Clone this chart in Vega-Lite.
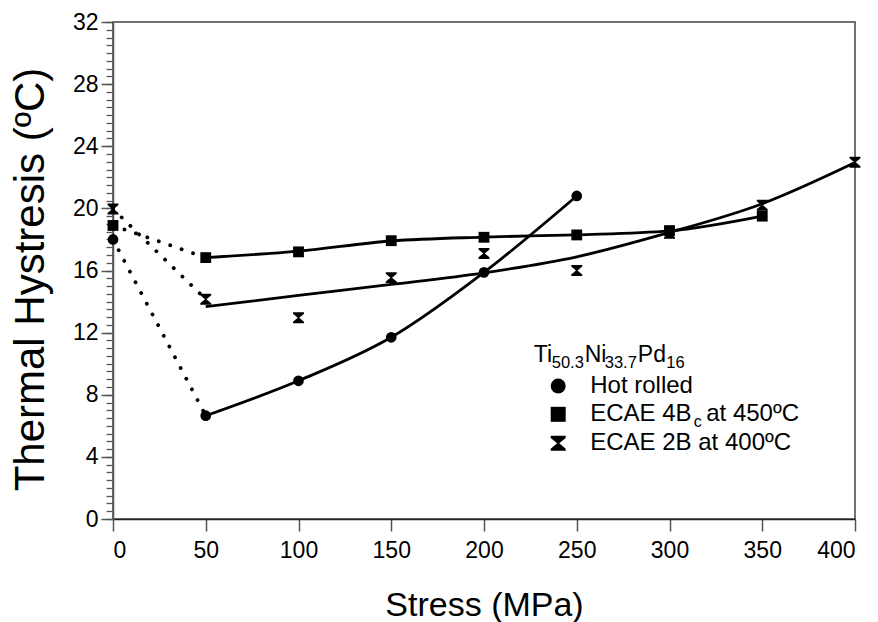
{
  "$schema": "https://vega.github.io/schema/vega-lite/v6.json",
  "width": 742,
  "height": 497,
  "autosize": "none",
  "padding": {"left": 113, "top": 22, "right": 23, "bottom": 103},
  "background": "white",
  "config": {
    "font": "Liberation Sans",
    "view": {"stroke": "#444", "strokeWidth": 1.5},
    "text": {"font": "Liberation Sans", "color": "black"}
  },
  "datasets": {
    "measured": [
      {"series": "Hot rolled", "stress": 0, "th": 18.0},
      {"series": "Hot rolled", "stress": 50, "th": 6.65},
      {"series": "Hot rolled", "stress": 100, "th": 8.9},
      {"series": "Hot rolled", "stress": 150, "th": 11.7},
      {"series": "Hot rolled", "stress": 200, "th": 15.88},
      {"series": "Hot rolled", "stress": 250, "th": 20.8},
      {"series": "ECAE 4Bc at 450ºC", "stress": 0, "th": 18.9},
      {"series": "ECAE 4Bc at 450ºC", "stress": 50, "th": 16.83},
      {"series": "ECAE 4Bc at 450ºC", "stress": 100, "th": 17.2},
      {"series": "ECAE 4Bc at 450ºC", "stress": 150, "th": 17.92},
      {"series": "ECAE 4Bc at 450ºC", "stress": 200, "th": 18.14},
      {"series": "ECAE 4Bc at 450ºC", "stress": 250, "th": 18.29},
      {"series": "ECAE 4Bc at 450ºC", "stress": 300, "th": 18.57},
      {"series": "ECAE 4Bc at 450ºC", "stress": 350, "th": 19.5},
      {"series": "ECAE 2B at 400ºC", "stress": 0, "th": 19.96},
      {"series": "ECAE 2B at 400ºC", "stress": 50, "th": 14.15},
      {"series": "ECAE 2B at 400ºC", "stress": 100, "th": 12.96},
      {"series": "ECAE 2B at 400ºC", "stress": 150, "th": 15.54},
      {"series": "ECAE 2B at 400ºC", "stress": 200, "th": 17.1},
      {"series": "ECAE 2B at 400ºC", "stress": 250, "th": 16.0},
      {"series": "ECAE 2B at 400ºC", "stress": 300, "th": 18.4},
      {"series": "ECAE 2B at 400ºC", "stress": 350, "th": 20.2},
      {"series": "ECAE 2B at 400ºC", "stress": 400, "th": 22.97}
    ],
    "trend": [
      {"series": "Hot rolled", "stress": 50, "th": 6.65},
      {"series": "Hot rolled", "stress": 100, "th": 8.9},
      {"series": "Hot rolled", "stress": 150, "th": 11.7},
      {"series": "Hot rolled", "stress": 200, "th": 15.88},
      {"series": "Hot rolled", "stress": 250, "th": 20.8},
      {"series": "ECAE 4Bc at 450ºC", "stress": 50, "th": 16.83},
      {"series": "ECAE 4Bc at 450ºC", "stress": 100, "th": 17.25},
      {"series": "ECAE 4Bc at 450ºC", "stress": 150, "th": 17.9},
      {"series": "ECAE 4Bc at 450ºC", "stress": 200, "th": 18.15},
      {"series": "ECAE 4Bc at 450ºC", "stress": 250, "th": 18.3},
      {"series": "ECAE 4Bc at 450ºC", "stress": 300, "th": 18.55},
      {"series": "ECAE 4Bc at 450ºC", "stress": 350, "th": 19.5},
      {"series": "ECAE 2B at 400ºC", "stress": 50, "th": 13.67},
      {"series": "ECAE 2B at 400ºC", "stress": 100, "th": 14.4},
      {"series": "ECAE 2B at 400ºC", "stress": 150, "th": 15.1},
      {"series": "ECAE 2B at 400ºC", "stress": 200, "th": 15.85},
      {"series": "ECAE 2B at 400ºC", "stress": 250, "th": 16.88},
      {"series": "ECAE 2B at 400ºC", "stress": 300, "th": 18.45},
      {"series": "ECAE 2B at 400ºC", "stress": 350, "th": 20.3},
      {"series": "ECAE 2B at 400ºC", "stress": 400, "th": 22.95}
    ],
    "unloaded": [
      {"series": "Hot rolled", "stress": 0, "th": 18.0},
      {"series": "Hot rolled", "stress": 50, "th": 6.65},
      {"series": "ECAE 4Bc at 450ºC", "stress": 0, "th": 18.9},
      {"series": "ECAE 4Bc at 450ºC", "stress": 50, "th": 16.83},
      {"series": "ECAE 2B at 400ºC", "stress": 0, "th": 19.96},
      {"series": "ECAE 2B at 400ºC", "stress": 50, "th": 14.15}
    ],
    "key": [
      {"series": "Hot rolled", "label": "Hot rolled", "stress": 240, "th": 8.56},
      {"series": "ECAE 4Bc at 450ºC", "label": "ECAE 4B", "stress": 240, "th": 6.74},
      {"series": "ECAE 2B at 400ºC", "label": "ECAE 2B at 400ºC", "stress": 240, "th": 4.87}
    ]
  },
  "resolve": {"axis": {"y": "independent"}},
  "encoding": {
    "x": {
      "field": "stress", "type": "quantitative",
      "scale": {"domain": [0, 400], "nice": false, "zero": false},
      "axis": {
        "values": [0, 50, 100, 150, 200, 250, 300, 350, 400],
        "title": "Stress (MPa)",
        "grid": false,
        "tickSize": 12, "tickColor": "#555", "tickWidth": 1.5,
        "domainColor": "#222", "domainWidth": 1.3,
        "labelFontSize": 23, "labelColor": "black", "labelPadding": 8,
        "titleFontSize": 34, "titleFontWeight": "normal", "titleColor": "black",
        "titleBaseline": "alphabetic", "titleY": 96
      }
    }
  },
  "layer": [
    {
      "data": {"name": "unloaded"},
      "mark": {"type": "line", "color": "black", "strokeWidth": 3.8, "strokeDash": [0.1, 12], "strokeCap": "round"},
      "encoding": {
        "y": {
          "field": "th", "type": "quantitative",
          "scale": {"domain": [0, 32], "nice": false, "zero": false},
          "axis": {
            "orient": "left",
            "values": [0, 4, 8, 12, 16, 20, 24, 28, 32],
            "title": "Thermal Hystresis (ºC)",
            "grid": false,
            "tickSize": 12, "tickColor": "#555", "tickWidth": 1.5,
            "domainColor": "#555", "domainWidth": 1.5,
            "labelFontSize": 23, "labelColor": "black", "labelPadding": 3,
            "titleFontSize": 42, "titleFontWeight": "normal", "titleColor": "black",
            "titleBaseline": "alphabetic", "titleX": -70, "titleY": 257, "titleAlign": "center"
          }
        },
        "detail": {"field": "series"}
      }
    },
    {
      "data": {"name": "trend"},
      "mark": {"type": "line", "color": "black", "strokeWidth": 2.8, "interpolate": "monotone"},
      "encoding": {
        "y": {
          "field": "th", "type": "quantitative",
          "axis": {
            "orient": "left",
            "values": [0, 0.5, 1, 1.5, 2, 2.5, 3, 3.5, 4, 4.5, 5, 5.5, 6, 6.5, 7, 7.5, 8, 8.5, 9, 9.5, 10, 10.5, 11, 11.5, 12, 12.5, 13, 13.5, 14, 14.5, 15, 15.5, 16, 16.5, 17, 17.5, 18, 18.5, 19, 19.5, 20, 20.5, 21, 21.5, 22, 22.5, 23, 23.5, 24, 24.5, 25, 25.5, 26, 26.5, 27, 27.5, 28, 28.5, 29, 29.5, 30, 30.5, 31, 31.5, 32],
            "title": null, "labels": false, "domain": false, "grid": false,
            "tickSize": 7, "tickColor": "#555", "tickWidth": 1.3
          }
        },
        "detail": {"field": "series"}
      }
    },
    {
      "data": {"name": "measured"},
      "mark": {"type": "point", "filled": true, "opacity": 1, "color": "black"},
      "encoding": {
        "y": {"field": "th", "type": "quantitative", "axis": null},
        "shape": {
          "field": "series", "type": "nominal",
          "scale": {"domain": ["Hot rolled", "ECAE 4Bc at 450ºC", "ECAE 2B at 400ºC"], "range": ["circle", "square", "M-1,-1H1V-0.72L0.14,0L1,0.72V1H-1V0.72L-0.14,0L-1,-0.72Z"]},
          "legend": null
        },
        "size": {
          "field": "series", "type": "nominal",
          "scale": {"domain": ["Hot rolled", "ECAE 4Bc at 450ºC", "ECAE 2B at 400ºC"], "range": [115, 120, 130]},
          "legend": null
        }
      }
    },
    {
      "data": {"name": "key"},
      "mark": {"type": "point", "filled": true, "opacity": 1, "color": "black", "size": 225},
      "encoding": {
        "y": {"field": "th", "type": "quantitative", "axis": null},
        "shape": {"field": "series", "type": "nominal", "legend": null}
      }
    },
    {
      "data": {"name": "key"},
      "mark": {"type": "text", "align": "left", "baseline": "alphabetic", "fontSize": 24, "dx": 32, "dy": 7},
      "encoding": {
        "y": {"field": "th", "type": "quantitative", "axis": null},
        "text": {"field": "label"}
      }
    },
    {
      "data": {"name": "key"},
      "transform": [{"filter": "datum.series === 'ECAE 4Bc at 450ºC'"}],
      "encoding": {
        "y": {"field": "th", "type": "quantitative", "axis": null}
      },
      "layer": [
        {"mark": {"type": "text", "align": "left", "baseline": "alphabetic", "fontSize": 16, "dx": 135.5, "dy": 13, "text": "c"}},
        {"mark": {"type": "text", "align": "left", "baseline": "alphabetic", "fontSize": 24, "dx": 148, "dy": 7, "text": "at 450ºC"}}
      ]
    },
    {
      "data": {"name": "key"},
      "transform": [{"filter": "datum.series === 'Hot rolled'"}],
      "encoding": {
        "y": {"field": "th", "type": "quantitative", "axis": null}
      },
      "layer": [
        {"mark": {"type": "text", "align": "left", "baseline": "alphabetic", "fontSize": 23, "dx": -24.5, "dy": -24.3, "text": "Ti"}},
        {"mark": {"type": "text", "align": "left", "baseline": "alphabetic", "fontSize": 16.5, "dx": -6.5, "dy": -18, "text": "50.3"}},
        {"mark": {"type": "text", "align": "left", "baseline": "alphabetic", "fontSize": 23, "dx": 26.5, "dy": -24.3, "text": "Ni"}},
        {"mark": {"type": "text", "align": "left", "baseline": "alphabetic", "fontSize": 16.5, "dx": 46.5, "dy": -18, "text": "33.7"}},
        {"mark": {"type": "text", "align": "left", "baseline": "alphabetic", "fontSize": 23, "dx": 79.6, "dy": -24.3, "text": "Pd"}},
        {"mark": {"type": "text", "align": "left", "baseline": "alphabetic", "fontSize": 16.5, "dx": 108, "dy": -18, "text": "16"}}
      ]
    }
  ]
}
